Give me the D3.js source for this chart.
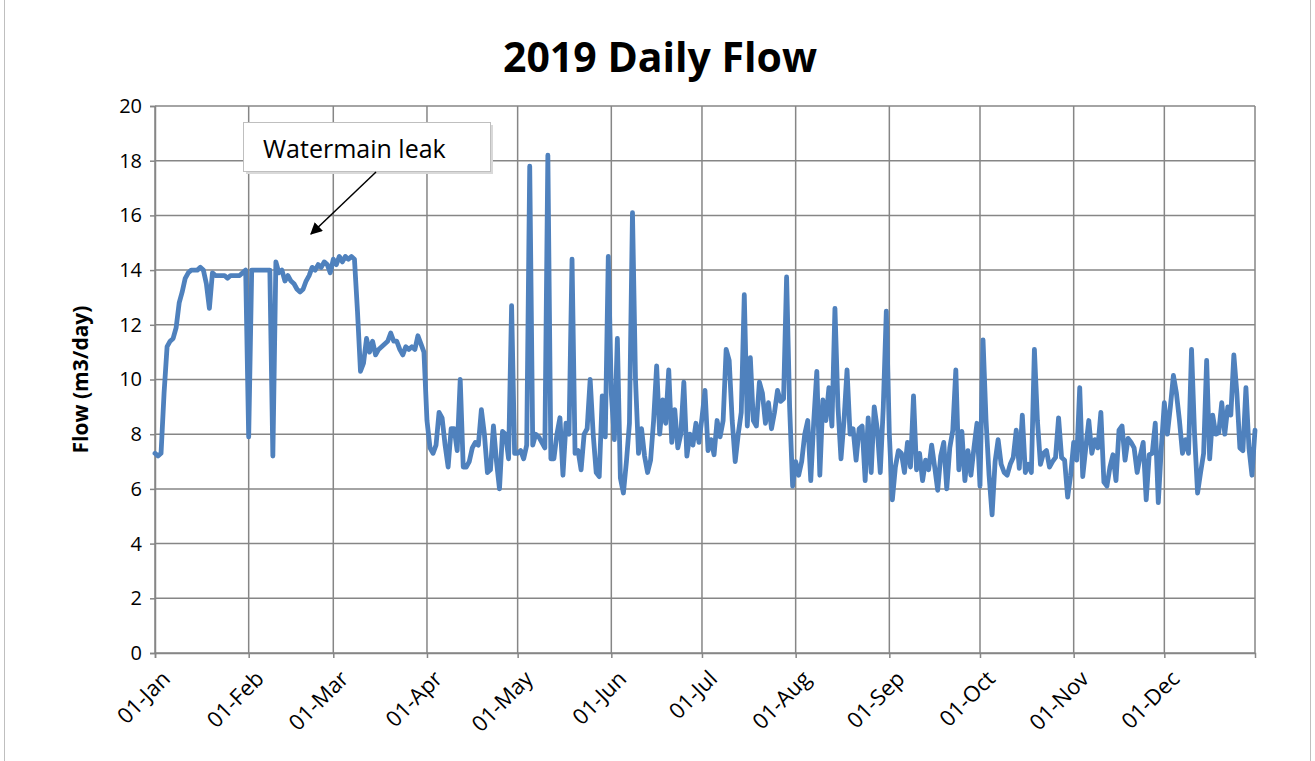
<!DOCTYPE html>
<html>
<head>
<meta charset="utf-8">
<script src="https://cdn.jsdelivr.net/npm/d3@7"></script>
<style>
  body { margin: 0; background: #fff; }
  text { font-family: "Open Sans", "Liberation Sans", sans-serif; fill: #000; }
</style>
</head>
<body>
<div id="chart"></div>
<script>
// daily flow, m3/day, one array per month
var jan = [7.3, 7.2, 7.3, 9.5, 11.2, 11.4, 11.5, 11.9, 12.8, 13.2, 13.7, 13.9, 14.0, 14.0, 14.0, 14.1,
           14.0, 13.5, 12.6, 13.9, 13.8, 13.8, 13.8, 13.8, 13.7, 13.8, 13.8, 13.8, 13.8, 13.9, 14.0];
var feb = [7.9, 14.0, 14.0, 14.0, 14.0, 14.0, 14.0, 14.0, 7.2, 14.3, 13.9, 14.0, 13.6, 13.8,
           13.6, 13.5, 13.3, 13.2, 13.3, 13.6, 13.8, 14.1, 14.0, 14.2, 14.1, 14.3, 14.2, 13.9];
var mar = [14.4, 14.2, 14.5, 14.3, 14.5, 14.4, 14.5, 14.4, 12.5, 10.3, 10.6, 11.5, 11.0, 11.4, 10.9, 11.1,
           11.2, 11.3, 11.4, 11.7, 11.4, 11.4, 11.1, 10.9, 11.2, 11.1, 11.2, 11.1, 11.6, 11.3, 11.0];
var apr = [8.5, 7.5, 7.3, 7.6, 8.8, 8.6, 7.6, 6.8, 8.2, 8.2, 7.4, 10.0, 6.8, 6.8, 7.0,
           7.5, 7.7, 7.6, 8.9, 8.0, 6.6, 6.7, 8.3, 7.0, 6.0, 8.1, 8.0, 7.1, 12.7, 7.3];
var may = [7.3, 7.4, 7.1, 7.6, 17.8, 7.6, 8.0, 7.9, 7.7, 7.5, 18.2, 7.1, 7.1, 8.0, 8.6, 6.5,
           8.4, 8.0, 14.4, 7.3, 7.4, 6.7, 8.0, 8.2, 10.0, 8.0, 6.6, 6.45, 9.4, 7.9, 14.5];
var jun = [9.5, 7.8, 11.5, 6.4, 5.85, 7.0, 8.4, 16.1, 10.0, 7.3, 8.2, 7.2, 6.6, 7.05, 8.5,
           10.5, 8.0, 9.25, 8.4, 10.35, 7.7, 8.9, 7.5, 8.0, 9.9, 7.2, 8.0, 7.6, 8.4, 7.7];
var jul = [8.6, 9.6, 7.4, 7.8, 7.25, 8.5, 7.9, 8.5, 11.1, 10.7, 8.5, 7.0, 8.0, 8.8, 13.1, 8.3,
           10.8, 8.5, 8.3, 9.9, 9.5, 8.4, 9.15, 8.2, 8.8, 9.6, 9.2, 9.3, 13.75, 9.0, 6.1];
var aug = [7.0, 6.5, 7.0, 8.0, 8.5, 6.3, 8.5, 10.3, 6.5, 9.25, 8.5, 9.7, 8.3, 12.6, 9.0, 7.1,
           8.5, 10.35, 8.0, 8.2, 7.05, 8.2, 8.3, 6.3, 8.6, 6.6, 9.0, 8.2, 6.6, 9.0, 12.5];
var sep = [8.0, 5.6, 6.8, 7.4, 7.3, 6.6, 7.7, 6.8, 9.4, 6.7, 7.3, 6.3, 7.05, 6.7, 7.6,
           6.8, 5.95, 7.2, 7.7, 6.0, 7.5, 8.15, 10.35, 6.7, 8.1, 6.3, 7.4, 6.5, 7.5, 8.4];
var oct = [6.1, 11.45, 8.5, 6.5, 5.05, 7.0, 7.8, 6.9, 6.6, 6.5, 6.9, 7.15, 8.15, 6.75, 8.7, 6.6,
           6.9, 6.6, 11.1, 8.5, 6.9, 7.3, 7.4, 6.8, 7.0, 7.15, 8.6, 7.15, 7.05, 5.7, 6.5];
var nov = [7.7, 7.05, 9.7, 6.45, 7.5, 8.5, 7.3, 7.8, 7.5, 8.8, 6.25, 6.1, 6.8, 7.25, 6.3,
           8.15, 8.3, 7.05, 7.85, 7.7, 7.5, 6.6, 7.2, 7.7, 5.6, 7.25, 7.3, 8.4, 5.5, 7.5];
var dec = [9.15, 8.0, 9.0, 10.15, 9.5, 8.5, 7.3, 7.8, 7.3, 11.1, 8.0, 5.85, 6.6, 7.3, 10.7, 7.1,
           8.7, 8.0, 8.05, 9.15, 8.0, 9.0, 8.7, 10.9, 9.5, 7.5, 7.4, 9.7, 7.5, 6.5, 8.15];

var yTicks = [0, 2, 4, 6, 8, 10, 12, 14, 16, 18, 20];
var chartTitle = "2019 Daily Flow";
var yTitle = "Flow (m3/day)";
var noteText = "Watermain leak";

var flow = [].concat(jan, feb, mar, apr, may, jun, jul, aug, sep, oct, nov, dec);
var start = new Date(2019, 0, 1);
var data = flow.map(function(v, i) {
    return {date: d3.timeDay.offset(start, i), value: v};
});

var W = 1315, H = 761;
var margin = {top: 106, right: 60, bottom: 108, left: 155};
var plotW = W - margin.left - margin.right;
var plotH = H - margin.top - margin.bottom;

var svg = d3.select("#chart").append("svg")
    .attr("width", W)
    .attr("height", H);

// outer chart frame (top edge sits just off the page like the original)
svg.append("rect")
    .attr("x", 4.5).attr("y", -2)
    .attr("width", 1306).attr("height", 790)
    .attr("fill", "none")
    .attr("stroke", "#bfbfbf");

var g = svg.append("g")
    .attr("transform", "translate(" + margin.left + "," + margin.top + ")");

var x = d3.scaleTime()
    .domain([start, new Date(2019, 11, 31)])
    .range([0, plotW]);
var y = d3.scaleLinear()
    .domain([0, 20])
    .range([plotH, 0]);

// gridlines
g.append("g").attr("class", "grid")
    .selectAll("line.h").data(yTicks).enter().append("line")
    .attr("x1", 0).attr("x2", plotW)
    .attr("y1", function(d) { return y(d); })
    .attr("y2", function(d) { return y(d); })
    .attr("stroke", "#868686").attr("stroke-width", 1.5);

var months = d3.timeMonth.range(start, new Date(2020, 0, 1));
g.append("g").attr("class", "grid")
    .selectAll("line.v").data(months).enter().append("line")
    .attr("x1", function(d) { return x(d); })
    .attr("x2", function(d) { return x(d); })
    .attr("y1", 0).attr("y2", plotH)
    .attr("stroke", "#868686").attr("stroke-width", 1.5);

g.append("line")
    .attr("x1", plotW).attr("x2", plotW)
    .attr("y1", 0).attr("y2", plotH)
    .attr("stroke", "#868686").attr("stroke-width", 1.5);

// axes
var yAxis = g.append("g")
    .call(d3.axisLeft(y).tickValues(yTicks).tickSize(5).tickPadding(8));
yAxis.select(".domain").attr("stroke", "#868686").attr("stroke-width", 1.5);
yAxis.selectAll(".tick line").attr("stroke", "#868686").attr("stroke-width", 1.5);
yAxis.selectAll("text").style("font-size", "20px").attr("fill", "#000");

var xAxis = g.append("g")
    .attr("transform", "translate(0," + plotH + ")")
    .call(d3.axisBottom(x).tickValues(months).tickFormat(d3.timeFormat("%d-%b")).tickSize(5));
xAxis.select(".domain").attr("stroke", "#868686").attr("stroke-width", 1.5);
xAxis.selectAll(".tick line").attr("stroke", "#868686").attr("stroke-width", 1.5);
xAxis.selectAll("text")
    .style("font-size", "22px")
    .attr("fill", "#000")
    .attr("text-anchor", "end")
    .attr("dy", "0.35em")
    .attr("transform", "translate(5,16) rotate(-45)");

// the flow line
var line = d3.line()
    .x(function(d) { return x(d.date); })
    .y(function(d) { return y(d.value); });

g.append("path")
    .datum(data)
    .attr("d", line)
    .attr("fill", "none")
    .attr("stroke", "#4f81bd")
    .attr("stroke-width", 4.8)
    .attr("stroke-linejoin", "round")
    .attr("stroke-linecap", "round");

// titles
svg.append("text")
    .attr("x", 660).attr("y", 72)
    .attr("text-anchor", "middle")
    .style("font-size", "41px")
    .style("font-weight", "bold")
    .text(chartTitle);

svg.append("text")
    .attr("transform", "translate(88," + (margin.top + plotH / 2) + ") rotate(-90)")
    .attr("text-anchor", "middle")
    .style("font-size", "21px")
    .style("font-weight", "bold")
    .text(yTitle);

// annotation callout
var defs = svg.append("defs");
defs.append("marker")
    .attr("id", "arrow")
    .attr("viewBox", "0 0 10 10")
    .attr("refX", 9).attr("refY", 5)
    .attr("markerWidth", 8).attr("markerHeight", 8)
    .attr("orient", "auto")
    .append("path")
    .attr("d", "M0,0 L10,5 L0,10 z")
    .attr("fill", "#000");

svg.append("rect")
    .attr("x", 246).attr("y", 125)
    .attr("width", 247).attr("height", 49)
    .attr("fill", "#d9d9d9");
svg.append("rect")
    .attr("x", 243.5).attr("y", 122.5)
    .attr("width", 247).attr("height", 49)
    .attr("fill", "#fff")
    .attr("stroke", "#bfbfbf");
svg.append("text")
    .attr("x", 263).attr("y", 158)
    .style("font-size", "25px")
    .text(noteText);

svg.append("line")
    .attr("x1", 376).attr("y1", 172)
    .attr("x2", 311).attr("y2", 234)
    .attr("stroke", "#000")
    .attr("stroke-width", 1.5)
    .attr("marker-end", "url(#arrow)");
</script>
</body>
</html>
